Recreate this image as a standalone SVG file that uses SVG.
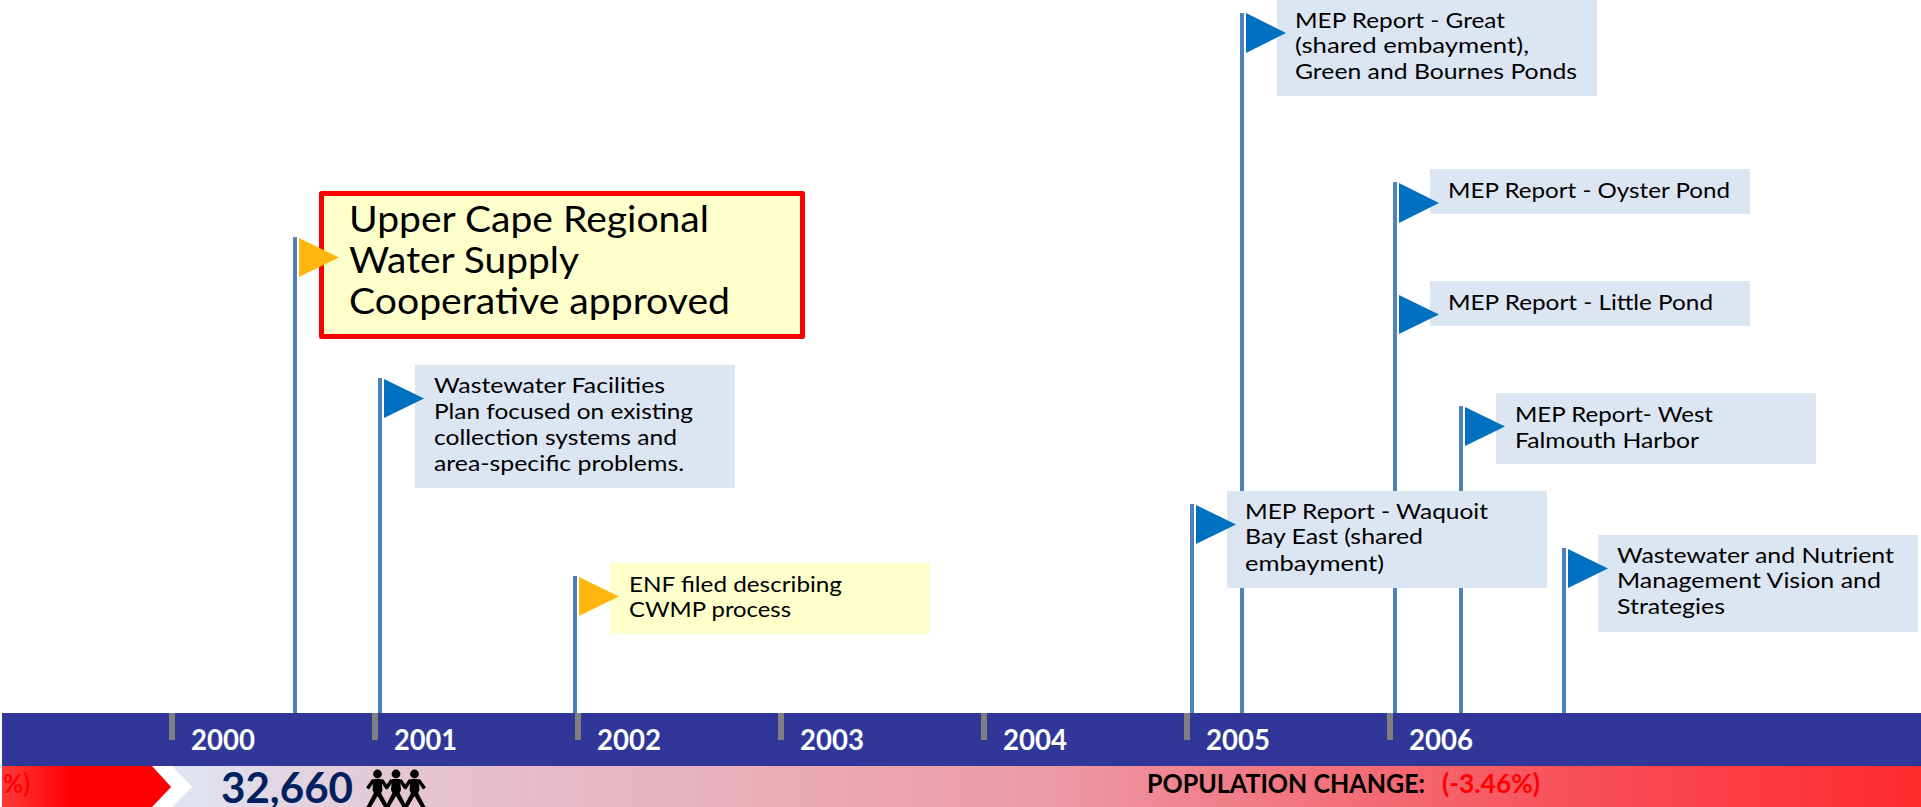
<svg xmlns="http://www.w3.org/2000/svg" xmlns:xlink="http://www.w3.org/1999/xlink" width="1921" height="807" viewBox="0 0 1921 807">
<style>
text{font-family:Lato,"Liberation Sans",sans-serif;fill:#000}
.t{font-size:22px}
.big{font-size:37px}
.yr{font-size:28px;font-weight:700;fill:#fff}
.pop{font-size:26px;font-weight:700}
.red{fill:#f00}
.pole{fill:#4f81bd}
.tick{fill:#808080}
.blue{fill:#dce6f2}
.yel{fill:#ffc}
.fb{fill:#0070c0}
.fo{fill:#ffb60f}
</style>
<defs>
<linearGradient id="popBar" gradientUnits="userSpaceOnUse" x1="172" y1="0" x2="1921" y2="0">
<stop offset="0" stop-color="#dfe6f3"/>
<stop offset="0.13" stop-color="#e4c6d2"/>
<stop offset="0.5" stop-color="#ec9aa6"/>
<stop offset="0.6" stop-color="#f07f8a"/>
<stop offset="0.8" stop-color="#f85058"/>
<stop offset="1" stop-color="#ff2a2e"/>
</linearGradient>
<linearGradient id="redArrow" gradientUnits="userSpaceOnUse" x1="2" y1="0" x2="70" y2="0">
<stop offset="0" stop-color="#ff3a3a"/>
<stop offset="1" stop-color="#f00"/>
</linearGradient>
<g id="person">
<circle cx="0" cy="774" r="4.4" fill="#000"/>
<path d="M-4 779H4L5 790L3.6 793L11 807H6.5L0 796L-6.500 807H-11L-3.6 793L-5 790Z" fill="#000"/>
<path d="M-4 780L-10 788.500M4 780L10 788.500" stroke="#000" stroke-width="3.6" fill="none"/>
</g>
</defs>
<rect id="bg" width="1921" height="807" fill="#fff"/>
<g id="timeline">
<rect x="2" y="713" width="1919" height="53" fill="#303798"/>
<rect x="2" y="766" width="1919" height="41" fill="url(#popBar)"/>
<path d="M152 766H172L192 787L172 807H152L172 787Z" fill="#fff"/>
<path d="M2 766H152L171 787L152 807H2Z" fill="url(#redArrow)"/>
<text class="pop red" x="3" y="793" textLength="27" lengthAdjust="spacingAndGlyphs">%)</text>
<rect class="tick" x="169" y="713" width="6" height="27"/>
<rect class="tick" x="372" y="713" width="6" height="27"/>
<rect class="tick" x="575" y="713" width="6" height="27"/>
<rect class="tick" x="778" y="713" width="6" height="27"/>
<rect class="tick" x="981" y="713" width="6" height="27"/>
<rect class="tick" x="1184" y="713" width="6" height="27"/>
<rect class="tick" x="1387" y="713" width="6" height="27"/>
<text class="yr" x="191" y="750" textLength="64" lengthAdjust="spacingAndGlyphs">2000</text>
<text class="yr" x="394" y="750" textLength="63" lengthAdjust="spacingAndGlyphs">2001</text>
<text class="yr" x="597" y="750" textLength="64" lengthAdjust="spacingAndGlyphs">2002</text>
<text class="yr" x="800" y="750" textLength="64" lengthAdjust="spacingAndGlyphs">2003</text>
<text class="yr" x="1003" y="750" textLength="64" lengthAdjust="spacingAndGlyphs">2004</text>
<text class="yr" x="1206" y="750" textLength="64" lengthAdjust="spacingAndGlyphs">2005</text>
<text class="yr" x="1409" y="750" textLength="64" lengthAdjust="spacingAndGlyphs">2006</text>
<text x="221" y="803" font-size="42" font-weight="700" style="fill:#002060" textLength="132" lengthAdjust="spacingAndGlyphs">32,660</text>
<g id="people">
<use xlink:href="#person" href="#person" x="377.500"/>
<use xlink:href="#person" href="#person" x="396"/>
<use xlink:href="#person" href="#person" x="414.500"/>
</g>
<text class="pop" x="1147" y="793" textLength="278" lengthAdjust="spacingAndGlyphs">POPULATION CHANGE:</text>
<text class="pop red" x="1442" y="793" textLength="98" lengthAdjust="spacingAndGlyphs">(-3.46%)</text>
</g>
<g id="connectors">
<rect class="pole" x="293" y="237" width="4" height="476"/>
<rect class="pole" x="378" y="378" width="4" height="335"/>
<rect class="pole" x="573" y="576" width="4" height="137"/>
<rect class="pole" x="1190" y="504" width="4" height="209"/>
<rect class="pole" x="1240" y="13" width="4" height="700"/>
<rect class="pole" x="1393" y="182" width="4" height="531"/>
<rect class="pole" x="1459" y="406" width="4" height="307"/>
<rect class="pole" x="1562" y="548" width="4" height="165"/>
</g>
<g id="node-upper-cape">
<rect x="321.500" y="193.500" width="481" height="143" fill="#ffc" stroke="#f00" stroke-width="5" stroke-linejoin="round"/>
<path class="fo" d="M299 238L339 257.500L299 277Z"/>
<text class="big" x="349" y="232" textLength="360" lengthAdjust="spacingAndGlyphs">Upper Cape Regional</text>
<text class="big" x="349" y="273" textLength="230" lengthAdjust="spacingAndGlyphs">Water Supply</text>
<text class="big" x="349" y="314" textLength="381" lengthAdjust="spacingAndGlyphs">Cooperative approved</text>
</g>
<g id="node-facilities-plan">
<rect class="blue" x="415" y="365" width="320" height="123"/>
<path class="fb" d="M384 379L424 398.500L384 418Z"/>
<text class="t" x="434" y="393" textLength="231" lengthAdjust="spacingAndGlyphs">Wastewater Facilities</text>
<text class="t" x="434" y="419" textLength="259" lengthAdjust="spacingAndGlyphs">Plan focused on existing</text>
<text class="t" x="434" y="445" textLength="243" lengthAdjust="spacingAndGlyphs">collection systems and</text>
<text class="t" x="434" y="471" textLength="250" lengthAdjust="spacingAndGlyphs">area-specific problems.</text>
</g>
<g id="node-enf">
<rect class="yel" x="610" y="563" width="320" height="71"/>
<path class="fo" d="M579 577L619 596.500L579 616Z"/>
<text class="t" x="629" y="592" textLength="213" lengthAdjust="spacingAndGlyphs">ENF filed describing</text>
<text class="t" x="629" y="617" textLength="162" lengthAdjust="spacingAndGlyphs">CWMP process</text>
</g>
<g id="node-waquoit">
<rect class="blue" x="1227" y="491" width="320" height="97"/>
<path class="fb" d="M1196 505L1236 524.500L1196 544Z"/>
<text class="t" x="1245" y="519" textLength="243" lengthAdjust="spacingAndGlyphs">MEP Report - Waquoit</text>
<text class="t" x="1245" y="544" textLength="178" lengthAdjust="spacingAndGlyphs">Bay East (shared</text>
<text class="t" x="1245" y="571" textLength="139" lengthAdjust="spacingAndGlyphs">embayment)</text>
</g>
<g id="node-great">
<rect class="blue" x="1277" y="0" width="320" height="96"/>
<path class="fb" d="M1246 13L1286 33L1246 53Z"/>
<text class="t" x="1295" y="28" textLength="210" lengthAdjust="spacingAndGlyphs">MEP Report - Great</text>
<text class="t" x="1295" y="53" textLength="234" lengthAdjust="spacingAndGlyphs">(shared embayment),</text>
<text class="t" x="1295" y="79" textLength="282" lengthAdjust="spacingAndGlyphs">Green and Bournes Ponds</text>
</g>
<g id="node-oyster">
<rect class="blue" x="1430" y="169" width="320" height="45"/>
<path class="fb" d="M1399 183L1439 203L1399 223Z"/>
<text class="t" x="1448" y="198" textLength="282" lengthAdjust="spacingAndGlyphs">MEP Report - Oyster Pond</text>
</g>
<g id="node-little">
<rect class="blue" x="1430" y="281" width="320" height="45"/>
<path class="fb" d="M1399 295L1439 314.500L1399 334Z"/>
<text class="t" x="1448" y="310" textLength="265" lengthAdjust="spacingAndGlyphs">MEP Report - Little Pond</text>
</g>
<g id="node-west-falmouth">
<rect class="blue" x="1496" y="393" width="320" height="71"/>
<path class="fb" d="M1465 407L1505 426.500L1465 446Z"/>
<text class="t" x="1515" y="422" textLength="198" lengthAdjust="spacingAndGlyphs">MEP Report- West</text>
<text class="t" x="1515" y="448" textLength="184" lengthAdjust="spacingAndGlyphs">Falmouth Harbor</text>
</g>
<g id="node-vision">
<rect class="blue" x="1598" y="535" width="320" height="97"/>
<path class="fb" d="M1568 549L1608 568.500L1568 588Z"/>
<text class="t" x="1617" y="563" textLength="277" lengthAdjust="spacingAndGlyphs">Wastewater and Nutrient</text>
<text class="t" x="1617" y="588" textLength="264" lengthAdjust="spacingAndGlyphs">Management Vision and</text>
<text class="t" x="1617" y="614" textLength="108" lengthAdjust="spacingAndGlyphs">Strategies</text>
</g>
</svg>
